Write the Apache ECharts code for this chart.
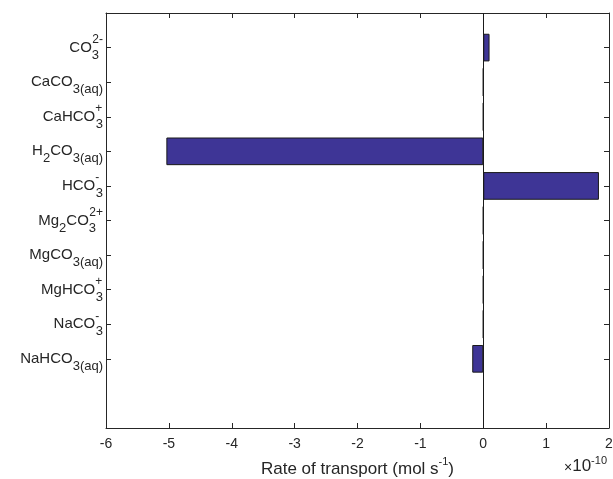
<!DOCTYPE html>
<html>
<head>
<meta charset="utf-8">
<script src="https://cdn.jsdelivr.net/npm/echarts@6/dist/echarts.min.js"></script>
<style>
  html, body { margin: 0; padding: 0; background: #fff; }
  #chart { width: 613px; height: 479px; }
</style>
</head>
<body>
<div id="chart"></div>
<script>
// species, top to bottom (rich text markup for sub/superscripts)
const species = [
  'CO{z|3}{sp|2-}',
  'CaCO{sb|3(aq)}',
  'CaHCO{zp|+}{sb|3}',
  'H{sb|2}CO{sb|3(aq)}',
  'HCO{zp|-}{sb|3}',
  'Mg{sb|2}CO{z|3}{sp|2+}',
  'MgCO{sb|3(aq)}',
  'MgHCO{zp|+}{sb|3}',
  'NaCO{zp|-}{sb|3}',
  'NaHCO{sb|3(aq)}'
]
// rate of transport, in units of 1e-10 mol/s
const rates = [0.1, 0, 0, -5.04, 1.84, 0, 0, 0, 0, -0.175]
const xTicks = [-6, -5, -4, -3, -2, -1, 0, 1, 2]

// empty slot on top, two on the bottom (ylim 0..12)
const cats = [''].concat(species, ['', ''])
const vals = [null].concat(rates, [null, null])

const ink = '#262626'
const font = 'Liberation Sans'

const rich = {
  n: { fontSize: 15, fontFamily: font, color: ink, lineHeight: 28, verticalAlign: 'middle', align: 'left' },
  sb: { fontSize: 13, fontFamily: font, color: ink, lineHeight: 13, verticalAlign: 'bottom', align: 'left' },
  sp: { fontSize: 12, fontFamily: font, color: ink, lineHeight: 12, verticalAlign: 'top', align: 'left' },
  z: { fontSize: 13, fontFamily: font, color: ink, lineHeight: 13, verticalAlign: 'bottom', align: 'left', width: 0.5 },
  zp: { fontSize: 12, fontFamily: font, color: ink, lineHeight: 12, verticalAlign: 'top', align: 'left', width: 0.5 }
}

function richLabel(s) {
  // wrap plain runs in {n|...}
  return s.split(/(\{[a-z]+\|[^}]*\})/).filter(p => p).map(p => p[0] === '{' ? p : '{n|' + p + '}').join('')
}

const chart = echarts.init(document.getElementById('chart'))
chart.setOption({
  animation: false,
  grid: { left: 106, right: 4, top: 13, bottom: 51, outerBoundsMode: 'none' },
  xAxis: [
    {
      type: 'value', min: -6, max: 2, interval: 1,
      axisLine: { show: true, onZero: false, lineStyle: { color: ink, width: 1 } },
      axisTick: { show: true, inside: true, length: 5, lineStyle: { color: ink } },
      axisLabel: {
        color: ink, fontSize: 14, fontFamily: font, margin: 9,
        formatter: v => xTicks.indexOf(v) >= 0 ? String(v) : ''
      },
      splitLine: { show: false },
      name: '{t|Rate of transport (mol s}{sp|-1}{t|)}',
      nameLocation: 'middle', nameGap: 28,
      nameTextStyle: {
        color: ink, fontSize: 17, fontFamily: font,
        rich: {
          t: { fontSize: 17, fontFamily: font, color: ink, verticalAlign: 'bottom', lineHeight: 22 },
          sp: { fontSize: 11, fontFamily: font, color: ink, verticalAlign: 'top', lineHeight: 12 }
        }
      }
    },
    {
      type: 'value', position: 'top', min: -6, max: 2, interval: 1,
      axisLine: { show: true, onZero: false, lineStyle: { color: ink, width: 1 } },
      axisTick: { show: true, inside: true, length: 5, lineStyle: { color: ink } },
      axisLabel: { show: false },
      splitLine: { show: false }
    }
  ],
  yAxis: [
    {
      type: 'category', data: cats, inverse: true, boundaryGap: false,
      axisLine: { show: true, onZero: false, lineStyle: { color: ink, width: 1 } },
      axisTick: { show: true, inside: true, length: 5, interval: (i, v) => v !== '', lineStyle: { color: ink } },
      axisLabel: {
        interval: (i, v) => v !== '', margin: 3,
        formatter: v => richLabel(v), rich: rich
      },
      splitLine: { show: false }
    },
    {
      type: 'category', data: cats, inverse: true, boundaryGap: false, position: 'right',
      axisLine: { show: true, onZero: false, lineStyle: { color: ink, width: 1 } },
      axisTick: { show: true, inside: true, length: 5, interval: (i, v) => v !== '', lineStyle: { color: ink } },
      axisLabel: { show: false },
      splitLine: { show: false }
    }
  ],
  series: [
    {
      type: 'bar', xAxisIndex: 0, yAxisIndex: 0,
      data: vals, barWidth: '80%',
      itemStyle: { color: '#3e3596', borderColor: '#1a1a1a', borderWidth: 1 },
      markLine: {
        silent: true, symbol: 'none', label: { show: false },
        lineStyle: { color: '#1a1a1a', type: 'solid', width: 1 },
        data: [{ xAxis: 0 }]
      }
    }
  ],
  graphic: [
    {
      type: 'text', right: 6, top: 455,
      style: {
        text: '{x|×}{n|10}{s|-10}', fill: ink,
        rich: {
          x: { fontSize: 14, fontFamily: font, fill: ink, verticalAlign: 'bottom', lineHeight: 19 },
          n: { fontSize: 17, fontFamily: font, fill: ink, verticalAlign: 'bottom', lineHeight: 20 },
          s: { fontSize: 11, fontFamily: font, fill: ink, verticalAlign: 'top', lineHeight: 11 }
        }
      }
    }
  ]
})
</script>
</body>
</html>
